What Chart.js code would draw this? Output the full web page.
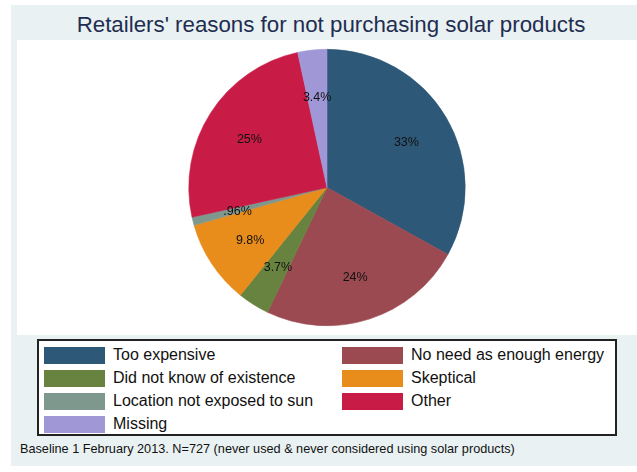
<!DOCTYPE html>
<html>
<head>
<meta charset="utf-8">
<script src="https://cdn.jsdelivr.net/npm/chart.js@4"></script>
<style>
  body { margin: 0; background: #fff; font-family: "Liberation Sans", Arial, sans-serif; }
  #marco { position: absolute; left: 11px; top: 5px; width: 626px; height: 461px; background: #e9f1f3; }
  #titulo { position: absolute; left: 51px; width: 560px; top: 12px; text-align: center; font-size: 22.3px; color: #1f2d50; line-height: 26px; white-space: nowrap; }
  #zona { position: absolute; left: 17px; top: 40px; width: 620px; height: 295px; background: #fff; }
  #leyenda { position: absolute; left: 37px; top: 339px; width: 576px; height: 93px; border: 2px solid #222; background: #fff; }
  .item { position: absolute; height: 17px; font-size: 16px; color: #111; }
  .item span.caja { position: absolute; left: 0; top: 0; width: 61px; height: 17px; }
  .item span.txt { position: absolute; left: 69px; top: -1px; white-space: nowrap; line-height: 18px; }
  #nota { position: absolute; left: 20px; top: 442px; font-size: 12.7px; color: #111; white-space: nowrap; }
</style>
</head>
<body>
<div id="marco"></div>
<div id="titulo">Retailers' reasons for not purchasing solar products</div>
<div id="zona"><canvas id="graficoRazones"></canvas></div>
<div id="leyenda"></div>
<div id="nota">Baseline 1 February 2013. N=727 (never used &amp; never considered using solar products)</div>

<script>
// Razones (orden de las porciones, en sentido horario desde arriba)
const razones = [
  "Too expensive",
  "No need as enough energy",
  "Did not know of existence",
  "Skeptical",
  "Location not exposed to sun",
  "Other",
  "Missing"
];
const porcentajes = [33, 24, 3.7, 9.8, 0.96, 25, 3.4];
const colores = ["#2e5878", "#9a4a50", "#67833f", "#e88c1b", "#7f988e", "#c81c47", "#a098d6"];

// Orden de la leyenda: dos columnas, como en el gráfico original
const ordenLeyenda = [0, 1, 2, 3, 4, 5, 6];

// Etiqueta estilo Stata: ".96%" sin el cero inicial
function etiqueta(v) {
  return String(v).replace(/^0\./, ".") + "%";
}

// Plugin para escribir los porcentajes dentro de cada porción (a 2/3 del radio)
const etiquetasPorcion = {
  id: "etiquetasPorcion",
  afterDatasetsDraw(chart) {
    const ctx = chart.ctx;
    const meta = chart.getDatasetMeta(0);
    ctx.save();
    ctx.font = "12.5px 'Liberation Sans', Arial, sans-serif";
    ctx.fillStyle = "#111";
    ctx.textAlign = "center";
    ctx.textBaseline = "middle";
    meta.data.forEach((arc, i) => {
      const p = arc.getProps(["x", "y", "startAngle", "endAngle", "outerRadius"], true);
      const medio = (p.startAngle + p.endAngle) / 2;
      const r = p.outerRadius * 0.667;
      ctx.fillText(etiqueta(porcentajes[i]), p.x + Math.cos(medio) * r, p.y + Math.sin(medio) * r + 2);
    });
    ctx.restore();
  }
};

const canvas = document.getElementById("graficoRazones");
canvas.width = 620;
canvas.height = 295;

new Chart(canvas.getContext("2d"), {
  type: "pie",
  data: {
    labels: razones,
    datasets: [{
      data: porcentajes,
      backgroundColor: colores,
      borderWidth: 0.6,
      borderColor: colores
    }]
  },
  options: {
    responsive: false,
    animation: false,
    layout: { padding: 9 },
    plugins: {
      legend: { display: false },
      tooltip: { enabled: false }
    }
  },
  plugins: [etiquetasPorcion]
});

// Leyenda HTML (2 columnas)
const leyenda = document.getElementById("leyenda");
ordenLeyenda.forEach((idx, n) => {
  const col = n % 2;
  const fila = Math.floor(n / 2);
  const div = document.createElement("div");
  div.className = "item";
  div.style.left = (col === 0 ? 5 : 303) + "px";
  div.style.top = (6 + fila * 23) + "px";
  div.innerHTML = `<span class="caja" style="background:${colores[idx]}"></span><span class="txt">${razones[idx]}</span>`;
  leyenda.appendChild(div);
});
</script>
</body>
</html>
